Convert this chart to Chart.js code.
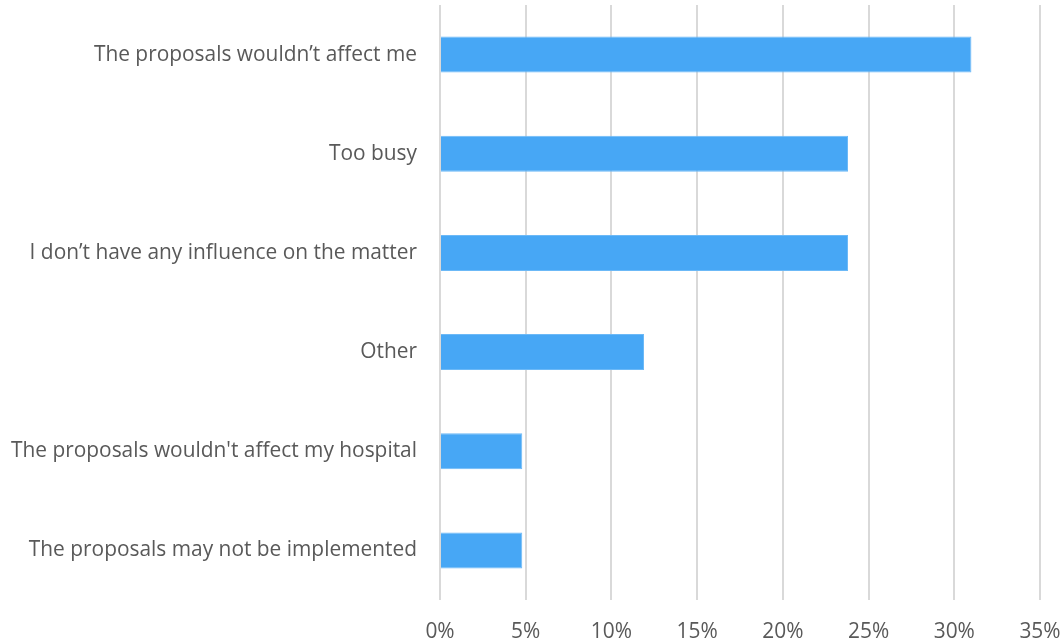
<!DOCTYPE html>
<html>
<head>
<meta charset="utf-8">
<script src="https://cdn.jsdelivr.net/npm/chart.js@4"></script>
<style>
  html, body { margin: 0; padding: 0; background: #fff; }
  #wrap { width: 1062px; height: 642px; }
</style>
</head>
<body>
<div id="wrap"><canvas id="grafico" width="1062" height="642"></canvas></div>
<script>
// Datos (porcentaje de respuestas)
const categorias = [
    "The proposals wouldn\u2019t affect me",
    "Too busy",
    "I don\u2019t have any influence on the matter",
    "Other",
    "The proposals wouldn't affect my hospital",
    "The proposals may not be implemented"
];
const valores = [31.0, 23.8, 23.8, 11.9, 4.8, 4.8];
const ticksX = [0, 5, 10, 15, 20, 25, 30, 35];

const ctx = document.getElementById('grafico').getContext('2d');

new Chart(ctx, {
    type: 'bar',
    data: {
        labels: categorias,
        datasets: [{
            data: valores,
            backgroundColor: '#47a7f5',
            borderColor: '#6cb9f7',
            borderWidth: 1,
            barPercentage: 0.9,
            categoryPercentage: 0.403
        }]
    },
    options: {
        indexAxis: 'y',
        responsive: false,
        animation: false,
        layout: { padding: { top: 5, right: 22, left: 0, bottom: 0 } },
        plugins: {
            legend: { display: false },
            tooltip: { enabled: false }
        },
        scales: {
            x: {
                min: 0,
                max: 35,
                afterBuildTicks: axis => {
                    axis.ticks = ticksX.map(v => ({ value: v }));
                },
                afterFit: axis => {
                    axis.height = 42;
                    axis.paddingLeft = 0;
                    axis.paddingRight = 0;
                },
                grid: { color: '#d9d9d9', lineWidth: 2, drawTicks: false },
                border: { display: false },
                ticks: {
                    padding: 20,
                    color: '#595959',
                    font: { family: 'Open Sans', size: 20.9 },
                    callback: v => v + '%'
                }
            },
            y: {
                afterFit: axis => {
                    axis.width = 440;
                    axis.paddingTop = 0;
                    axis.paddingBottom = 0;
                },
                grid: { display: false, drawTicks: false },
                border: { display: false },
                ticks: {
                    padding: 23,
                    color: '#595959',
                    font: { family: 'Open Sans', size: 20.9 }
                }
            }
        }
    }
});
</script>
</body>
</html>
